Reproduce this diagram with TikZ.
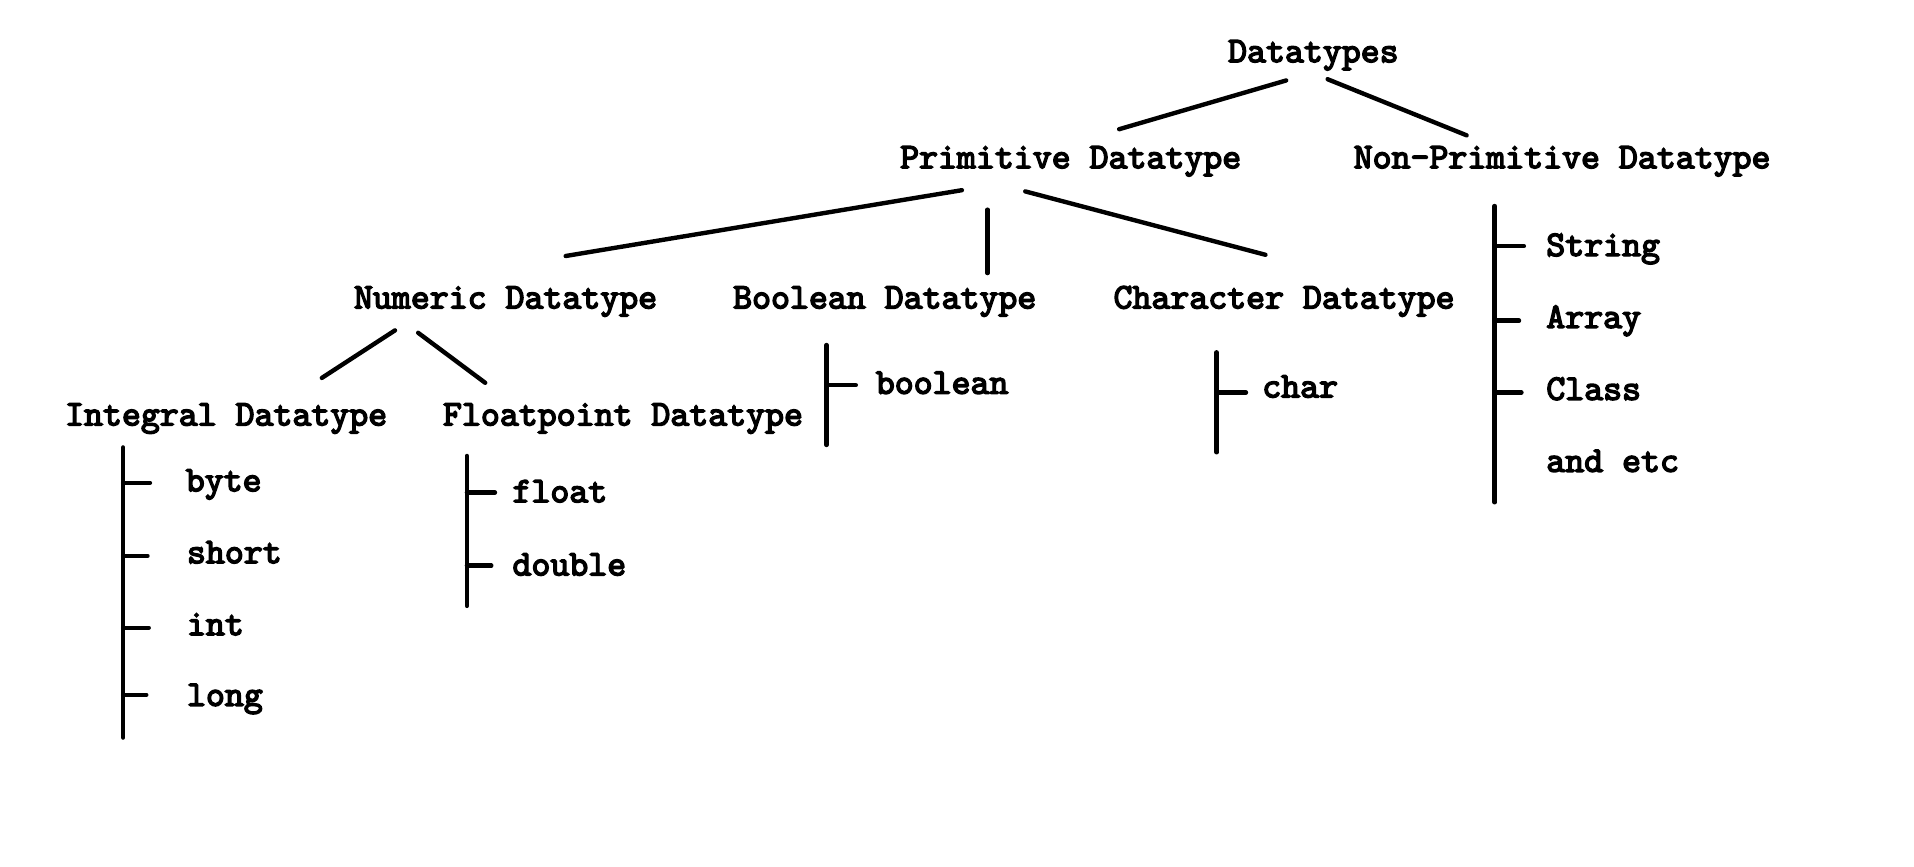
\documentclass[tikz,border=0pt]{standalone}
\usepackage{fontspec}
\newfontfamily\courfont[Extension=.otf,FakeBold=4]{lmmono10-regular}
\begin{document}
\begin{tikzpicture}[x=0.5pt,y=-0.5pt,
  lbl/.style={anchor=base west,inner sep=0pt,font=\courfont\bfseries\fontsize{14.8}{17}\selectfont},
  conn/.style={line width=1.8pt,line cap=round}]
\useasboundingbox (0,0) rectangle (1570,711);
% labels
\node[lbl] (dt) at (1007,51) {Datatypes};
\node[lbl] (prim) at (738,138) {Primitive Datatype};
\node[lbl] (nonprim) at (1110,138) {Non-Primitive Datatype};
\node[lbl] (num) at (290,253) {Numeric Datatype};
\node[lbl] (bool) at (601,253) {Boolean Datatype};
\node[lbl] (chr) at (913,253) {Character Datatype};
\node[lbl] (intg) at (53,349) {Integral Datatype};
\node[lbl] (flt) at (363,349) {Floatpoint Datatype};
\node[lbl] (byte) at (152,403) {byte};
\node[lbl] (short) at (153,462) {short};
\node[lbl] (int) at (153,521) {int};
\node[lbl] (long) at (153,579) {long};
\node[lbl] (float) at (420,412) {float};
\node[lbl] (double) at (420,472) {double};
\node[lbl] (boolean) at (718,323) {boolean};
\node[lbl] (char) at (1035,326) {char};
\node[lbl] (string) at (1268,210) {String};
\node[lbl] (array) at (1268,269) {Array};
\node[lbl] (class) at (1268,328) {Class};
\node[lbl] (etc) at (1268,387) {and etc};
% connector end points
\coordinate (dtL) at (1055,66);   \coordinate (primT) at (918,106);
\coordinate (dtR) at (1089,65);   \coordinate (nonprimT) at (1203,111);
\coordinate (primL) at (789,156); \coordinate (numT) at (464,210);
\coordinate (primM) at (810,172); \coordinate (boolT) at (810,224);
\coordinate (primR) at (841,157); \coordinate (chrT) at (1038,209);
\coordinate (numL) at (324,271);  \coordinate (intgT) at (264,310);
\coordinate (numR) at (343,273);  \coordinate (fltT) at (398,314);
% tree lines
\draw[conn] (dtL) -- (primT);
\draw[conn] (dtR) -- (nonprimT);
\draw[conn] (primL) -- (numT);
\draw[conn] (primM) -- (boolT);
\draw[conn] (primR) -- (chrT);
\draw[conn] (numL) -- (intgT);
\draw[conn] (numR) -- (fltT);
% integral list
\coordinate (iTop) at (101,367); \coordinate (iBot) at (101,605);
\draw[conn] (iTop) -- (iBot);
\coordinate (iB) at (101,396); \coordinate (iS) at (101,456);
\coordinate (iI) at (101,515); \coordinate (iL) at (101,570);
\draw[conn] (iB) -- ++(22,0);
\draw[conn] (iS) -- ++(20,0);
\draw[conn] (iI) -- ++(21,0);
\draw[conn] (iL) -- ++(19,0);
% float list
\coordinate (fTop) at (383,374); \coordinate (fBot) at (383,497);
\draw[conn] (fTop) -- (fBot);
\coordinate (fF) at (383,404); \coordinate (fD) at (383,464);
\draw[conn] (fF) -- ++(23,0);
\draw[conn] (fD) -- ++(20,0);
% boolean list
\coordinate (bTop) at (678,283); \coordinate (bBot) at (678,365);
\draw[conn] (bTop) -- (bBot);
\coordinate (bB) at (678,316);
\draw[conn] (bB) -- ++(24,0);
% char list
\coordinate (cTop) at (998,289); \coordinate (cBot) at (998,371);
\draw[conn] (cTop) -- (cBot);
\coordinate (cC) at (998,322);
\draw[conn] (cC) -- ++(24,0);
% non-primitive list
\coordinate (nTop) at (1226,169); \coordinate (nBot) at (1226,412);
\draw[conn] (nTop) -- (nBot);
\coordinate (nS) at (1226,202); \coordinate (nA) at (1226,263);
\coordinate (nC) at (1226,322);
\draw[conn] (nS) -- ++(24,0);
\draw[conn] (nA) -- ++(20,0);
\draw[conn] (nC) -- ++(22,0);
\end{tikzpicture}
\end{document}
